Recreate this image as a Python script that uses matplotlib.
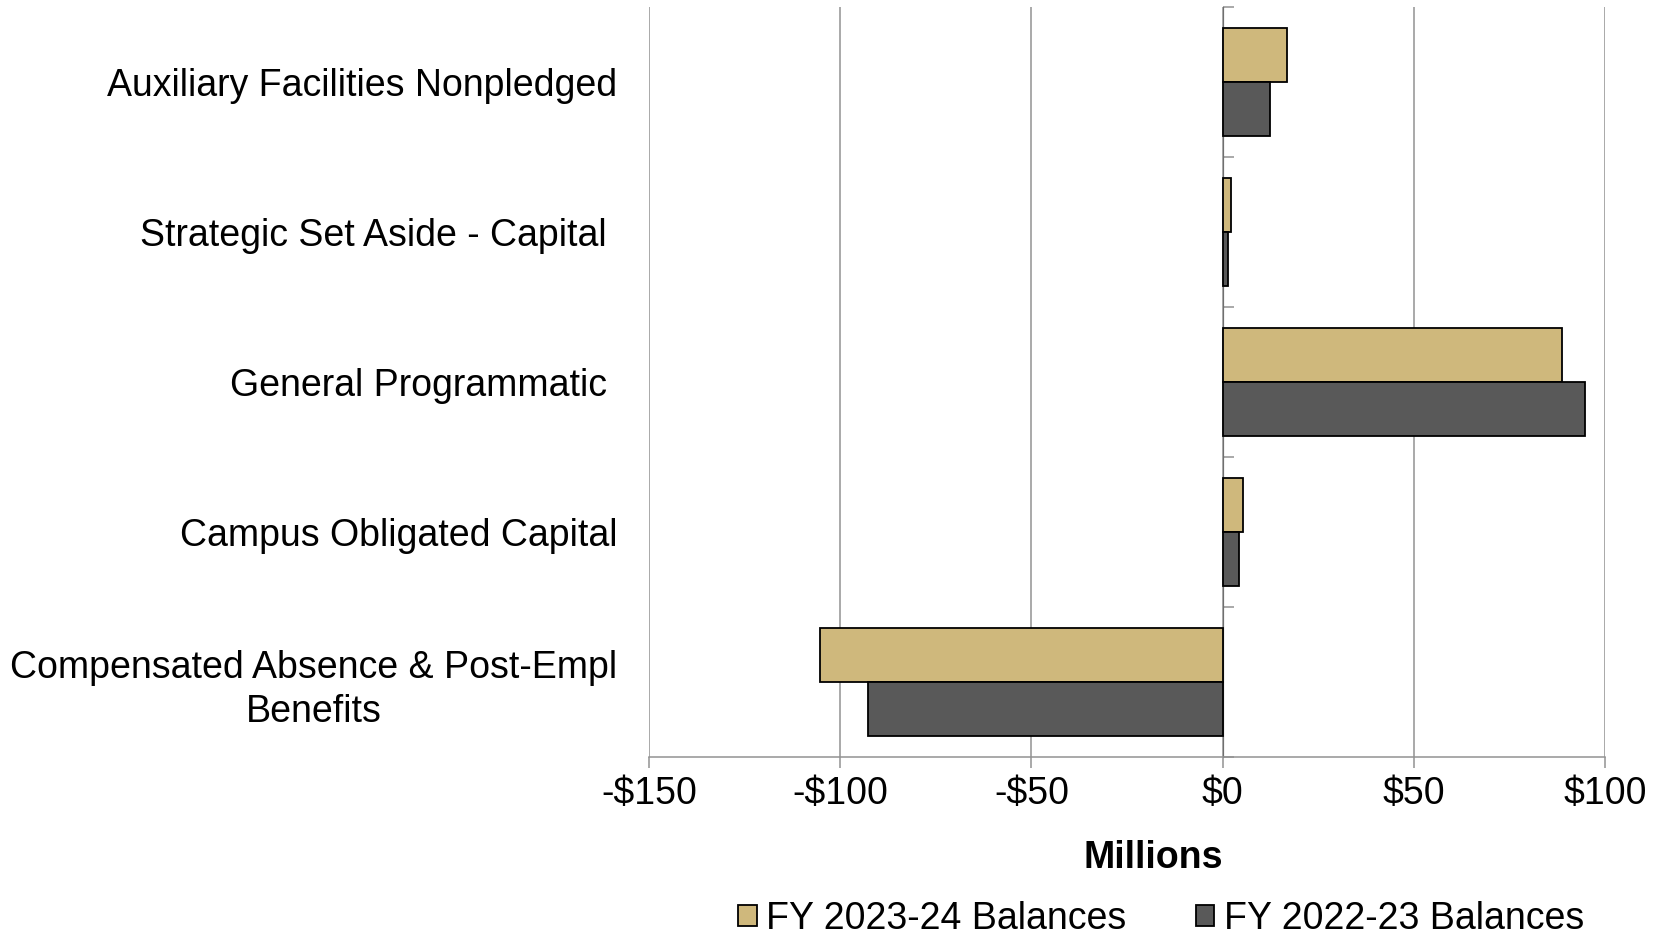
import matplotlib.pyplot as plt
import numpy as np

plt.rcParams['font.family'] = ['Liberation Sans', 'DejaVu Sans']

# Datos (millones), de arriba a abajo
categorias = ['Auxiliary Facilities Nonpledged',
              'Strategic Set Aside - Capital ',
              'General Programmatic ',
              'Campus Obligated Capital',
              'Compensated Absence & Post-Empl\nBenefits']
fy_2023_24 = [16.9, 2.2, 88.7, 5.4, -105.4]
fy_2022_23 = [12.4, 1.5, 94.8, 4.3, -92.7]
x_ticks = [-150, -100, -50, 0, 50, 100]
x_labels = ['-$150', '-$100', '-$50', '$0', '$50', '$100']

oro = '#CFB87C'
gris = '#595959'
gris_linea = '#929292'
fs = 27

fig = plt.figure(figsize=(16.61, 9.34), dpi=100)
ax = fig.add_axes([0.3907, 0.1895, 0.5756, 0.8025])

y = np.arange(len(categorias))
h = 0.36
ax.barh(y - h / 2, fy_2023_24, height=h, color=oro, edgecolor='black',
        linewidth=1.3, label='FY 2023-24 Balances', zorder=3)
ax.barh(y + h / 2, fy_2022_23, height=h, color=gris, edgecolor='black',
        linewidth=1.3, label='FY 2022-23 Balances', zorder=3)

ax.set_xlim(-150, 100)
ax.set_ylim(len(categorias) - 0.5, -0.5)
ax.set_xticks(x_ticks, labels=x_labels)
ax.set_yticks(y, labels=categorias, multialignment='center', linespacing=1.28)
ax.tick_params(axis='y', length=0, pad=23, labelsize=fs)
ax.tick_params(axis='x', length=8, width=1.1, color=gris_linea,
               labelsize=fs, pad=6)
ax.grid(axis='x', color=gris_linea, linewidth=1.1, zorder=0)

for lado in ['top', 'right', 'left']:
    ax.spines[lado].set_visible(False)
ax.spines['bottom'].set_color(gris_linea)
ax.spines['bottom'].set_linewidth(1.1)

# eje vertical en cero con marcas entre categorias
eje0 = ax.secondary_yaxis(150 / 250)
eje0.set_yticks(np.arange(len(categorias) + 1) - 0.5, labels=[])
eje0.tick_params(length=8, width=1.1, color=gris_linea)
eje0.spines['left'].set_color(gris_linea)
eje0.spines['left'].set_linewidth(1.6)

ax.set_xlabel('Millions', fontsize=fs, fontweight='bold')
ax.xaxis.set_label_coords(0.527, -0.111)

fig.legend(loc='center', bbox_to_anchor=(1161 / 1661, 1 - 919 / 934),
           ncol=2, frameon=False, fontsize=fs, handlelength=0.5,
           handleheight=0.5, handletextpad=0.25, columnspacing=1.85)

fig.savefig('out.png', dpi=100)
